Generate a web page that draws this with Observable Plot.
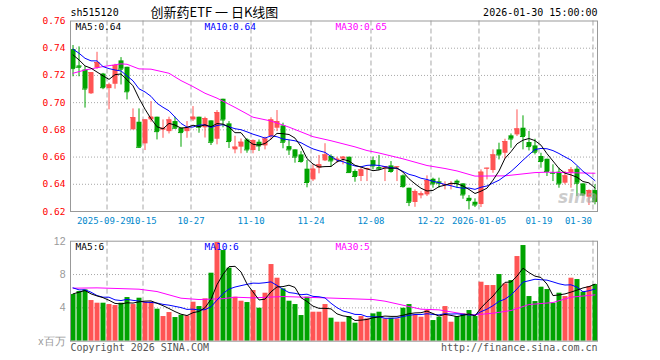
<!DOCTYPE html>
<html><head><meta charset="utf-8">
<script src="https://cdn.jsdelivr.net/npm/d3@7"></script>
<script src="https://cdn.jsdelivr.net/npm/@observablehq/plot@0.6"></script>
<style>
body{margin:0;background:#fff}
#c{position:relative;width:660px;height:360px;overflow:hidden;background:#fff}
</style></head><body><div id="c"></div><script>
const symbol = "sh515120";
const title = "创新药ETF 一 日K线图";
const stamp = "2026-01-30 15:00:00";
const dates = [
"2025-09-19","2025-09-22","2025-09-23","2025-09-24","2025-09-25","2025-09-26","2025-09-29","2025-09-30",
"2025-10-09","2025-10-10","2025-10-13","2025-10-14","2025-10-15","2025-10-16","2025-10-17","2025-10-20","2025-10-21","2025-10-22","2025-10-23","2025-10-24","2025-10-27","2025-10-28","2025-10-29","2025-10-30","2025-10-31",
"2025-11-03","2025-11-04","2025-11-05","2025-11-06","2025-11-07","2025-11-10","2025-11-11","2025-11-12","2025-11-13","2025-11-14","2025-11-17","2025-11-18","2025-11-19","2025-11-20","2025-11-21","2025-11-24","2025-11-25","2025-11-26","2025-11-27","2025-11-28",
"2025-12-01","2025-12-02","2025-12-03","2025-12-04","2025-12-05","2025-12-08","2025-12-09","2025-12-10","2025-12-11","2025-12-12","2025-12-15","2025-12-16","2025-12-17","2025-12-18","2025-12-19","2025-12-22","2025-12-23","2025-12-24","2025-12-25","2025-12-26","2025-12-29","2025-12-30","2025-12-31",
"2026-01-05","2026-01-06","2026-01-07","2026-01-08","2026-01-09","2026-01-12","2026-01-13","2026-01-14","2026-01-15","2026-01-16","2026-01-19","2026-01-20","2026-01-21","2026-01-22","2026-01-23","2026-01-26","2026-01-27","2026-01-28","2026-01-29","2026-01-30"];
const open = [0.739,0.727,0.724,0.7065,0.7253,0.721,0.7103,0.7135,0.7307,0.726,
0.680,0.6856,0.6697,0.6873,0.6893,0.6797,0.6787,0.6861,0.6812,0.6787,
0.6873,0.6893,0.6815,0.6866,0.6731,0.7025,0.6844,0.6653,0.6673,0.6726,
0.6648,0.6709,0.6682,0.6751,0.6812,0.6829,0.6677,0.6653,0.6616,0.6511,
0.6432,0.6518,0.6572,0.6604,0.6574,0.6584,0.6599,0.6494,0.6457,0.6506,
0.6574,0.6523,0.6518,0.6535,0.6523,0.6462,0.6371,0.6266,0.6315,0.6322,
0.6437,0.6418,0.6394,0.6398,0.6423,0.6403,0.6297,0.6268,0.6251,0.6514,
0.6501,0.6653,0.6628,0.6756,0.6763,0.6812,0.6707,0.6682,0.6604,0.6584,
0.6484,0.6489,0.6408,0.6481,0.6511,0.6403,0.6305,0.6354];
const high = [0.742,0.741,0.7265,0.722,0.737,0.7215,0.7143,0.7282,0.7331,0.726,
0.6954,0.6954,0.6873,0.7008,0.6893,0.6873,0.6893,0.6893,0.6812,0.6861,
0.6971,0.6893,0.6893,0.6866,0.6942,0.7025,0.6861,0.6753,0.6733,0.6735,
0.6726,0.6726,0.6746,0.6889,0.6942,0.6849,0.6722,0.6653,0.664,0.6575,
0.6543,0.6612,0.6698,0.6616,0.6599,0.6604,0.6599,0.6506,0.6518,0.6518,
0.66,0.6612,0.653,0.6567,0.653,0.6469,0.6371,0.6359,0.6345,0.6462,
0.6445,0.6445,0.6418,0.642,0.6432,0.6403,0.6317,0.6293,0.6506,0.6518,
0.6653,0.6702,0.6731,0.677,0.6947,0.6903,0.6788,0.6731,0.6628,0.6584,
0.6543,0.6518,0.6494,0.6523,0.653,0.6403,0.6359,0.6396];
const low = [0.719,0.719,0.696,0.706,0.7245,0.7095,0.6947,0.7099,0.713,0.702,
0.680,0.6663,0.6648,0.6856,0.6726,0.6738,0.677,0.6805,0.6672,0.6738,
0.6861,0.6775,0.674,0.6685,0.669,0.6815,0.6663,0.6624,0.6624,0.6628,
0.6624,0.6641,0.6653,0.6726,0.6787,0.6661,0.6612,0.6555,0.6555,0.6374,
0.642,0.6477,0.6567,0.6526,0.6555,0.6543,0.6481,0.6415,0.642,0.642,
0.6506,0.6501,0.642,0.6481,0.642,0.6371,0.6236,0.6231,0.6293,0.631,
0.6371,0.6371,0.6359,0.6359,0.6371,0.629,0.6212,0.6229,0.6229,0.6432,
0.6481,0.6579,0.6584,0.6665,0.6751,0.6653,0.6645,0.6616,0.6518,0.6457,
0.642,0.6371,0.6396,0.6371,0.631,0.631,0.6244,0.6249];
const close = [0.725,0.726,0.710,0.722,0.7295,0.711,0.713,0.7273,0.7246,0.708,
0.689,0.6672,0.6873,0.6893,0.6787,0.6812,0.6873,0.6812,0.678,0.6812,
0.6893,0.6819,0.6883,0.6709,0.6927,0.6873,0.6714,0.6673,0.6709,0.6653,
0.6722,0.6682,0.6733,0.6873,0.6861,0.6709,0.6653,0.660,0.6567,0.6413,
0.6511,0.6543,0.6616,0.6572,0.6584,0.6599,0.6486,0.6457,0.6506,0.6516,
0.6535,0.6513,0.653,0.6494,0.6528,0.6383,0.6268,0.6346,0.633,0.6427,
0.6403,0.6408,0.6398,0.6403,0.6408,0.6322,0.628,0.6248,0.6489,0.6518,
0.6616,0.6616,0.6714,0.6733,0.6807,0.6751,0.6677,0.6636,0.6567,0.6494,
0.6481,0.6403,0.6462,0.6506,0.6408,0.6322,0.6354,0.6273];
// volume, millions
const volume = [5.6,5.96,6.16,4.88,4.56,4.56,4.4,4.28,4.56,5.24,
4.4,5.16,4.68,4.68,3.84,2.96,3.44,2.84,3.12,3.04,
4.68,4.16,5.08,8.16,11.84,10.88,8.76,5.28,4.8,4.64,
6.08,3.96,5.76,9.2,7.56,6.28,4.8,4.4,3.08,5.28,
3.48,3.48,4.4,2.76,2.28,2.28,2.96,2.16,2.96,2.68,
3.28,3.48,2.68,2.76,2.68,3.96,4.4,3.16,2.88,3.68,
2.48,2.88,4.16,2.28,2.96,3.28,3.68,2.96,7.08,6.68,
6.68,8.0,6.88,7.28,10.16,11.48,5.36,4.76,6.48,6.2,
4.56,5.76,5.36,7.56,7.4,5.88,6.56,6.8];
const ma5Lead = [0.7351,0.7314,0.727,0.7253];
const ma10Lead = [0.7393,0.7363,0.7326,0.7307,0.7307,0.7265,0.725,0.724,0.7233];
const vma5Lead = [5.68,5.88,6.08,5.68];
const vma10Lead = [6.4,6.16,6.16,5.88,5.48,5.28,5.28,4.96,4.88];
const ma30Day = [0,2,5,8,9,11,13,16,18,20,22,24,27,30,33,36,40,43,47,49,51,55,59,62,64,67,72,77,79,87];
const ma30Val = [0.7216,0.724,0.7265,0.7285,0.7282,0.7248,0.7246,0.7216,0.7162,0.7118,0.7069,0.7033,0.6965,0.6893,0.6865,0.682,0.675,0.672,0.6675,0.6648,0.663,0.6587,0.6538,0.6516,0.6498,0.646,0.6462,0.6486,0.6489,0.6481];
const vma30Day = [0,4,11,14,18,21,25,27,30,35,42,50,52,56,58,61,65,67,70,73,76,80,83,87];
const vma30Val = [6.36,6.4,6.24,5.96,5.16,5.0,5.1,5.28,5.2,5.36,5.2,5.0,4.8,4.16,3.84,3.76,3.28,3.16,3.36,3.68,4.4,4.64,5.28,5.56];
const priceTicks = [0.62,0.64,0.66,0.68,0.70,0.72,0.74,0.76];
const volTicks = [0,4,8,12];
const tickDates = ["2025-09-29","2025-10-15","2025-10-27","2025-11-10","2025-11-24","2025-12-08","2025-12-22","2026-01-05","2026-01-19","2026-01-30"];
const tickLabels = ["2025-09-29","10-15","10-27","11-10","11-24","12-08","12-22","2026-01-05","01-19","01-30"];
const maLabels = ["MA5:0.64","MA10:0.64","MA30:0.65"];
const vmaLabels = ["MA5:6","MA10:6","MA30:5"];
const copyright = "Copyright 2026 SINA.COM";
const site = "http://finance.sina.com.cn";

const MONO = "DejaVu Sans Mono";
const RED = "#ff5454", GREEN = "#00a300";
const GRID = "#a8a8a8";

const sma = (arr, n, lead) => arr.map((_, i) => i < n - 1 ? lead[i] : d3.mean(arr.slice(i - n + 1, i + 1)));
const ma5 = sma(close, 5, ma5Lead), ma10 = sma(close, 10, ma10Lead);
const vma5 = sma(volume, 5, vma5Lead), vma10 = sma(volume, 10, vma10Lead);

const rows = dates.map((d, i) => ({i, date: d, o: open[i], h: high[i], l: low[i], c: close[i], v: volume[i],
  up: close[i] >= open[i], ma5: ma5[i], ma10: ma10[i], vma5: vma5[i], vma10: vma10[i]}));
const col = d => d.up ? RED : GREEN;
const ma30 = ma30Day.map((k, j) => ({i: k, y: ma30Val[j]}));
const vma30 = vma30Day.map((k, j) => ({i: k, y: vma30Val[j]}));
const ticks = tickDates.map((d, j) => ({i: dates.indexOf(d), label: tickLabels[j]}));
const xDomain = [-0.42, dates.length - 0.58];
const labelStyle = {frameAnchor: "bottom", dy: 10, lineAnchor: "middle", fill: "#0088cc", fontSize: 9, fontFamily: MONO};

const main = Plot.plot({
  width: 660, height: 230, marginLeft: 70, marginRight: 63, marginTop: 20.5, marginBottom: 19,
  style: {position: "absolute", top: "0px", left: "0px", fontFamily: MONO, background: "transparent", overflow: "visible"},
  x: {domain: xDomain, axis: null},
  y: {domain: [0.62, 0.76], axis: null},
  marks: [
    Plot.gridY(priceTicks.slice(1, -1), {stroke: GRID, strokeOpacity: 1, strokeDasharray: "1,2"}),
    Plot.ruleX(ticks, {x: "i", dx: -2, stroke: GRID, strokeDasharray: "5,3"}),
    Plot.axisY(priceTicks, {tickSize: 0, tickPadding: 5, fill: "#f00", fontSize: 9.5, fontFamily: MONO, tickFormat: d => d.toFixed(2)}),
    Plot.ruleX(rows, {x: "i", y1: "l", y2: "h", stroke: col}),
    Plot.ruleX(rows, {x: "i", y1: "o", y2: "c", stroke: col, strokeWidth: 5}),
    Plot.ruleY(rows, {x1: d => d.i - 0.42, x2: d => d.i + 0.42, y: "c", stroke: col}),
    Plot.line(ma30, {x: "i", y: "y", stroke: "#f0f", strokeWidth: 1}),
    Plot.line(rows, {x: "i", y: "ma10", stroke: "#00f", strokeWidth: 1}),
    Plot.line(rows, {x: "i", y: "ma5", stroke: "#000", strokeWidth: 1}),
    Plot.text(["sina"], {frameAnchor: "bottom-right", dx: 0, dy: -14, textAnchor: "end", lineAnchor: "middle", fill: "#aaa", fillOpacity: 0.6, fontSize: 17, fontStyle: "italic", fontWeight: "bold", fontFamily: "DejaVu Sans"}),
    Plot.frame({stroke: "#999"}),
    Plot.text(ticks.slice(0, 1), {...labelStyle, x: "i", text: "label", dx: -5, textAnchor: "middle"}),
    Plot.text(ticks.slice(1, -1), {...labelStyle, x: "i", text: "label", dx: -2, textAnchor: "middle"}),
    Plot.text(ticks.slice(-1), {...labelStyle, x: "i", text: "label", dx: -3, textAnchor: "end"}),
    Plot.text([symbol], {frameAnchor: "top-left", dy: -8, lineAnchor: "middle", textAnchor: "start", fill: "#000", fontSize: 10, fontFamily: MONO}),
    Plot.text([title], {frameAnchor: "top-left", dx: 80, dy: -8.5, lineAnchor: "middle", textAnchor: "start", fill: "#000", fontSize: 13, fontFamily: "Noto Sans CJK SC"}),
    Plot.text([stamp], {frameAnchor: "top-right", dy: -8, lineAnchor: "middle", textAnchor: "end", fill: "#000", fontSize: 10, fontFamily: MONO}),
    Plot.text([maLabels[0]], {frameAnchor: "top-left", dx: 5, dy: 6, lineAnchor: "middle", textAnchor: "start", fill: "#000", fontSize: 9.5, fontFamily: MONO}),
    Plot.text([maLabels[1]], {frameAnchor: "top-left", dx: 134, dy: 6, lineAnchor: "middle", textAnchor: "start", fill: "#00f", fontSize: 9.5, fontFamily: MONO}),
    Plot.text([maLabels[2]], {frameAnchor: "top-left", dx: 265, dy: 6, lineAnchor: "middle", textAnchor: "start", fill: "#f0f", fontSize: 9.5, fontFamily: MONO})
  ]
});

const vol = Plot.plot({
  width: 660, height: 130, marginLeft: 70, marginRight: 63, marginTop: 10.7, marginBottom: 19.3,
  style: {position: "absolute", top: "230px", left: "0px", fontFamily: MONO, background: "transparent", overflow: "visible"},
  x: {domain: xDomain, axis: null},
  y: {domain: [0, 12], axis: null},
  marks: [
    Plot.gridY([4, 8], {stroke: GRID, strokeOpacity: 1, strokeDasharray: "1,2"}),
    Plot.ruleX(ticks, {x: "i", dx: -2, stroke: GRID, strokeDasharray: "5,3"}),
    Plot.axisY(volTicks, {tickSize: 0, tickPadding: 5, fill: "#999", fontSize: 10.5, fontFamily: "Liberation Sans", tickFormat: d => d === 0 ? "x百万" : String(d)}),
    Plot.ruleX(rows, {x: "i", y1: 0, y2: "v", stroke: col, strokeWidth: 5}),
    Plot.line(vma30, {x: "i", y: "y", stroke: "#f0f", strokeWidth: 1}),
    Plot.line(rows, {x: "i", y: "vma10", stroke: "#00f", strokeWidth: 1}),
    Plot.line(rows, {x: "i", y: "vma5", stroke: "#000", strokeWidth: 1}),
    Plot.frame({stroke: "#999"}),
    Plot.text([vmaLabels[0]], {frameAnchor: "top-left", dx: 5, dy: 5.5, lineAnchor: "middle", textAnchor: "start", fill: "#000", fontSize: 9.5, fontFamily: MONO}),
    Plot.text([vmaLabels[1]], {frameAnchor: "top-left", dx: 134, dy: 5.5, lineAnchor: "middle", textAnchor: "start", fill: "#00f", fontSize: 9.5, fontFamily: MONO}),
    Plot.text([vmaLabels[2]], {frameAnchor: "top-left", dx: 265, dy: 5.5, lineAnchor: "middle", textAnchor: "start", fill: "#f0f", fontSize: 9.5, fontFamily: MONO}),
    Plot.text([copyright], {frameAnchor: "bottom-left", dy: 6.5, lineAnchor: "middle", textAnchor: "start", fill: "#555", fontSize: 10, fontFamily: MONO}),
    Plot.text([site], {frameAnchor: "bottom-right", dy: 6.5, lineAnchor: "middle", textAnchor: "end", fill: "#555", fontSize: 10, fontFamily: MONO})
  ]
});

const c = document.getElementById("c");
c.appendChild(main);
c.appendChild(vol);
</script></body></html>
